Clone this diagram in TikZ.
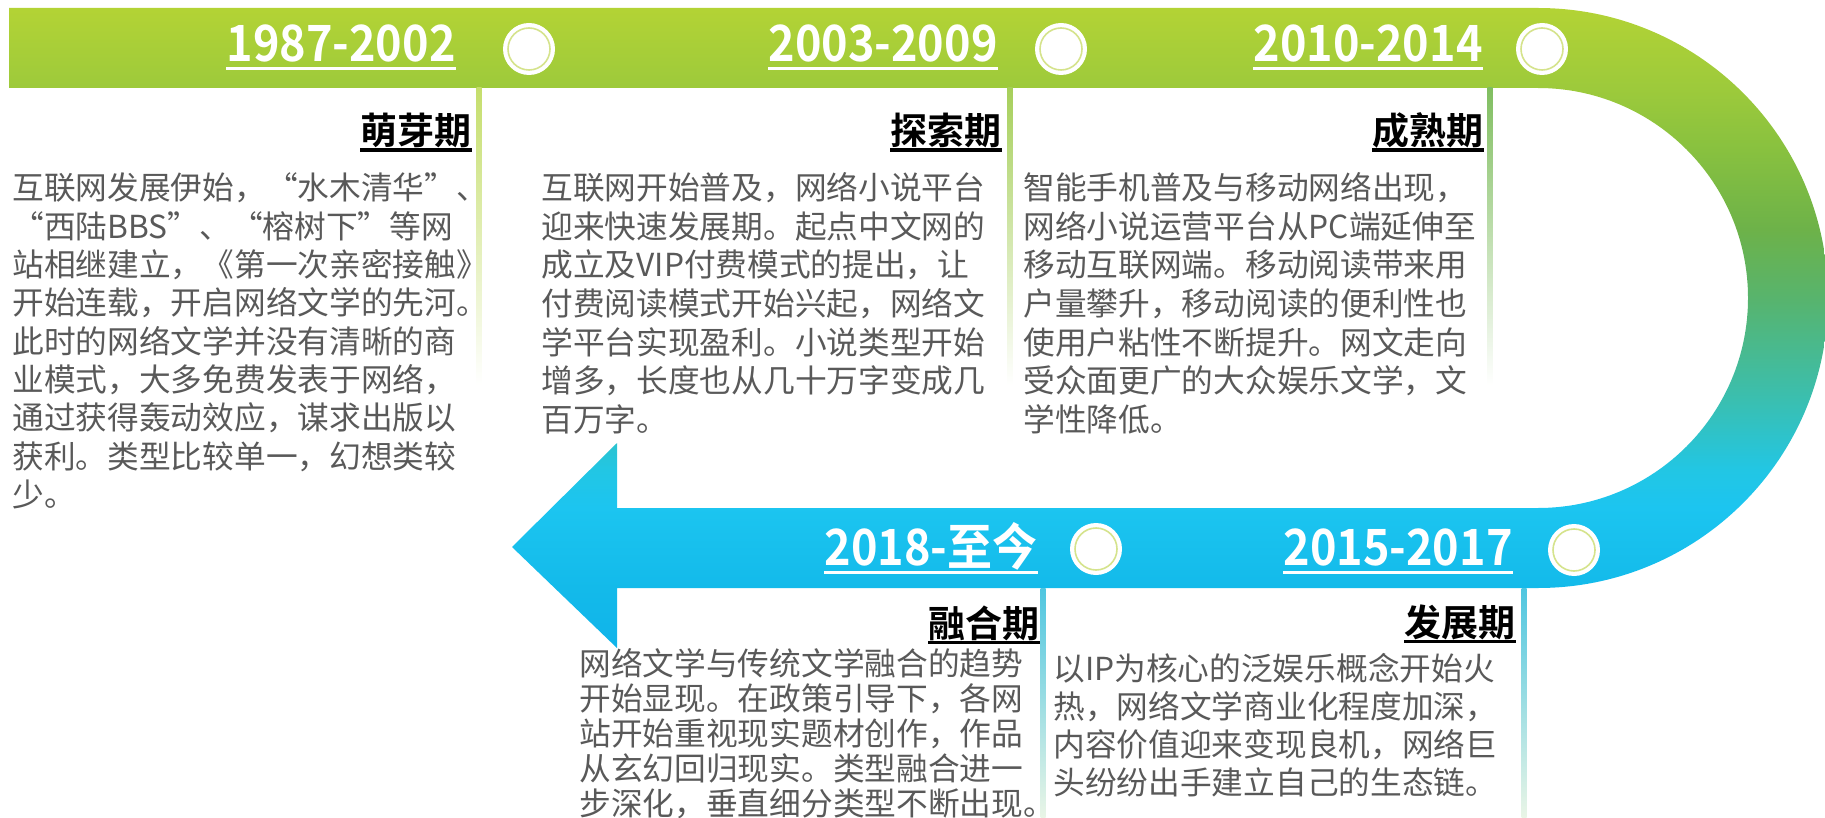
\documentclass[tikz,border=0pt]{standalone}
\usepackage{fontspec}
\setmainfont{Noto Sans CJK SC}[BoldFont={Noto Sans CJK SC Bold}]
\newfontfamily\yearfont{Noto Sans CJK SC Bold}[FakeStretch=0.9]
\usetikzlibrary{positioning}

\definecolor{sh0}{HTML}{10B4EA}
\definecolor{sh1}{HTML}{13BAEA}
\definecolor{sh2}{HTML}{1CC5F0}
\definecolor{sh3}{HTML}{22C6E4}
\definecolor{sh4}{HTML}{3ABFB0}
\definecolor{sh5}{HTML}{57B46E}
\definecolor{sh6}{HTML}{6DB249}
\definecolor{sh7}{HTML}{88C13F}
\definecolor{sh8}{HTML}{9DCA3B}
\definecolor{sh9}{HTML}{B3D335}
\definecolor{bodygray}{HTML}{595959}
\definecolor{ringcol}{HTML}{D5E38C}
\definecolor{sepa}{HTML}{C5DE6C}
\definecolor{sepb}{HTML}{A6CF5A}
\definecolor{sepc}{HTML}{80BE60}
\definecolor{sepd}{HTML}{4FC6E0}
\definecolor{sepfade}{HTML}{EAF5E6}

\pgfdeclareverticalshading{bandshade}{100bp}{color(0bp)=(sh0); color(25bp)=(sh0); color(29.7bp)=(sh1); color(36bp)=(sh2); color(38.9bp)=(sh3); color(44.4bp)=(sh4); color(52.2bp)=(sh5); color(57.7bp)=(sh6); color(63.9bp)=(sh7); color(68.75bp)=(sh8); color(75bp)=(sh9); color(100bp)=(sh9)}

\tikzset{
    dot/.style={circle, fill=white, minimum size=26pt, inner sep=0pt,
        path picture={\draw[ringcol, line width=0.8pt] (path picture bounding box.center) circle (10.5pt);}},
    yearlabel/.style={inner sep=0pt, anchor=base east, text=white, font=\fontsize{25pt}{25pt}\yearfont,
        append after command={\pgfextra{\fill[white] ([yshift=-2.75pt]\tikzlastnode.base west) rectangle ([yshift=-4.25pt]\tikzlastnode.base east);}}},
    stagehead/.style={inner sep=0pt, anchor=base east, text=black, font=\fontsize{18.5pt}{18.5pt}\selectfont\bfseries,
        append after command={\pgfextra{\fill[black] ([yshift=-1.75pt]\tikzlastnode.base west) rectangle ([yshift=-3.5pt]\tikzlastnode.base east);}}},
    bodytext/.style={inner sep=0pt, anchor=base west, text=bodygray, font=\fontsize{15.85pt}{19pt}\selectfont}
}

\begin{document}
\begin{tikzpicture}[x=0.5pt, y=-0.5pt]

    \useasboundingbox (0,0) rectangle (1825,818);

    \shade[shading=bandshade] (9,8) -- (1538,8) arc[start angle=-90, end angle=90, radius=290]
        -- (617,588) -- (617,648) -- (512,547) -- (617,443) -- (617,508) -- (1538,508)
        arc[start angle=90, end angle=-90, radius=210] -- (9,88) -- cycle;

    \shade[top color=sepa, bottom color=white] (476.5,88) rectangle (481.5,385);
    \shade[top color=sepb, bottom color=white] (1007.5,88) rectangle (1012.5,385);
    \shade[top color=sepc, bottom color=white] (1487.5,88) rectangle (1492.5,385);
    \shade[top color=sepd, bottom color=sepfade] (1040.5,588) rectangle (1045.5,818);
    \shade[top color=sepd, bottom color=sepfade] (1521.5,588) rectangle (1526.5,818);

    \node(c1)[dot] at (529,49){};
    \node(c2)[dot] at (1061,49){};
    \node(c3)[dot] at (1542,49){};
    \node(c4)[dot] at (1096,549){};
    \node(c5)[dot] at (1574,550){};

    \node(y1)[yearlabel] at (456,62){1987-2002};
    \node(y2)[yearlabel] at (998,62){2003-2009};
    \node(y3)[yearlabel] at (1483,62){2010-2014};
    \node(y4)[yearlabel] at (1038,565){2018-至今};
    \node(y5)[yearlabel] at (1513,565){2015-2017};

    \node(h1)[stagehead] at (472,145){萌芽期};
    \node(h2)[stagehead] at (1002,145){探索期};
    \node(h3)[stagehead] at (1484,145){成熟期};
    \node(h4)[stagehead] at (1040,637){融合期};
    \node(h5)[stagehead] at (1516,636){发展期};

    \foreach \t [count=\i from 0] in {互联网发展伊始，“水木清华”、, “西陆BBS”、“榕树下”等网, 站相继建立，《第一次亲密接触》, 开始连载，开启网络文学的先河。, 此时的网络文学并没有清晰的商, 业模式，大多免费发表于网络，, 通过获得轰动效应，谋求出版以, 获利。类型比较单一，幻想类较, 少。}
        \node(bud\i)[bodytext] at (12,200+38.3*\i){\t};

    \foreach \t [count=\i from 0] in {互联网开始普及，网络小说平台, 迎来快速发展期。起点中文网的, 成立及VIP付费模式的提出，让, 付费阅读模式开始兴起，网络文, 学平台实现盈利。小说类型开始, 增多，长度也从几十万字变成几, 百万字。}
        \node(explore\i)[bodytext] at (541,200+38.5*\i){\t};

    \foreach \t [count=\i from 0] in {智能手机普及与移动网络出现，, 网络小说运营平台从PC端延伸至, 移动互联网端。移动阅读带来用, 户量攀升，移动阅读的便利性也, 使用户粘性不断提升。网文走向, 受众面更广的大众娱乐文学，文, 学性降低。}
        \node(mature\i)[bodytext] at (1023,200+38.5*\i){\t};

    \foreach \t [count=\i from 0] in {网络文学与传统文学融合的趋势, 开始显现。在政策引导下，各网, 站开始重视现实题材创作，作品, 从玄幻回归现实。类型融合进一, 步深化，垂直细分类型不断出现。}
        \node(merge\i)[bodytext] at (579,675+35*\i){\t};

    \foreach \t [count=\i from 0] in {以IP为核心的泛娱乐概念开始火, 热，网络文学商业化程度加深，, 内容价值迎来变现良机，网络巨, 头纷纷出手建立自己的生态链。}
        \node(grow\i)[bodytext] at (1053,680+38*\i){\t};

\end{tikzpicture}
\end{document}
